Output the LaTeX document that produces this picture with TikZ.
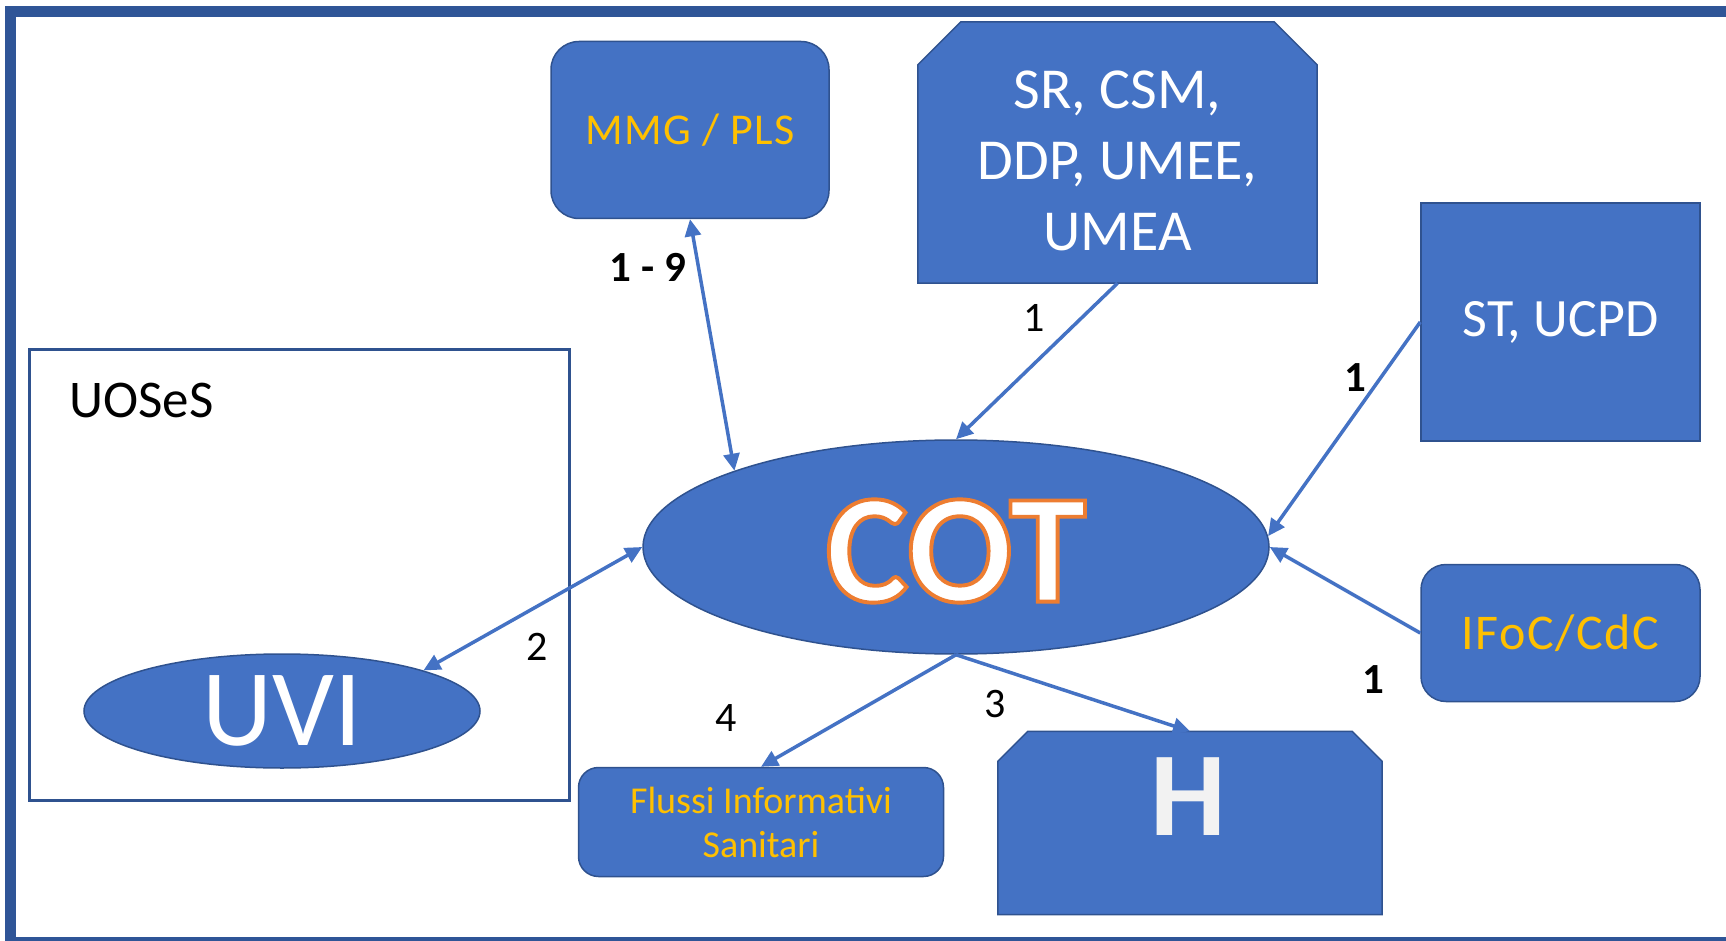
\documentclass[tikz,border=0pt]{standalone}
\usepackage{fontspec}
\setmainfont{Carlito}
\newfontfamily\cotfamily[FakeBold=2.5,BoldFeatures={FakeBold=2.5}]{Carlito}
\usetikzlibrary{arrows.meta,shapes.geometric}
\definecolor{fillblue}{HTML}{4472C4}
\definecolor{edgeblue}{HTML}{2F528F}
\definecolor{frameblue}{HTML}{2F5597}
\definecolor{gold}{HTML}{FFC000}
\definecolor{cotline}{HTML}{ED7D31}

\begin{document}
\begin{tikzpicture}[x=1pt,y=-1pt,
    box/.style={draw=edgeblue,fill=fillblue,line width=1.5pt,inner sep=0pt,align=center,text=white},
    rbox/.style={box,rounded corners=#1},
    hull/.style={inner sep=0pt},
    oval/.style={box,ellipse},
    link/.style={fillblue,line width=3.5pt,-{Triangle[length=17pt,width=16pt]}},
    twoway/.style={link,{Triangle[length=17pt,width=16pt]}-{Triangle[length=17pt,width=16pt]}},
    num/.style={inner sep=0pt,font=\fontsize{42}{42}\selectfont},
    bnum/.style={num,font=\bfseries\fontsize{43}{43}\selectfont}]
    \useasboundingbox(0,0)rectangle(1726,941);
    \clip(0,0)rectangle(1726,941);
    \draw[frameblue,line width=11pt](10,12)rectangle(1760,942);

    \node[draw=edgeblue,line width=3pt,minimum width=540pt,minimum height=451pt](uoses)at(299,574.5){};
    \node[anchor=west,inner sep=0pt,font=\fontsize{53}{53}\selectfont](uosestxt)at(69,400){UOSeS};
    \node[oval,minimum width=396pt,minimum height=114pt,font=\fontsize{109}{109}\selectfont](uvi)at(282,711){UVI};

    \node[rbox=28pt,minimum width=278pt,minimum height=177pt,text=gold,
        font=\fontsize{44}{44}\selectfont\addfontfeatures{LetterSpace=3}](mmg)at(690,130){MMG / PLS};
    \node[hull,minimum width=399pt,minimum height=261pt](sr)at(1117.5,152.5){};
    \draw[box](sr.south west)--([yshift=-43pt]sr.north west)--([xshift=43pt]sr.north west)
        --([xshift=-43pt]sr.north east)--([yshift=-43pt]sr.north east)--(sr.south east)--cycle;
    \node[inner sep=0pt,align=center,text=white,font=\fontsize{58}{71}\selectfont](srtxt)at(1117.5,161){SR, CSM,\\DDP, UMEE,\\UMEA};
    \node[box,minimum width=279pt,minimum height=238pt,font=\fontsize{54}{54}\selectfont](st)at(1560.5,322){ST, UCPD};
    \node[rbox=25pt,minimum width=279pt,minimum height=137pt,text=gold,
        font=\fontsize{50}{50}\selectfont\addfontfeatures{LetterSpace=3}](ifoc)at(1560.5,633){IFoC/CdC};
    \node[rbox=20pt,minimum width=365pt,minimum height=109pt,text=gold,font=\fontsize{38}{44}\selectfont](fis)at(761,822){Flussi Informativi\\Sanitari};
    \node[hull,minimum width=384pt,minimum height=183pt](h)at(1190,823){};
    \draw[box](h.south west)--([yshift=-30pt]h.north west)--([xshift=30pt]h.north west)
        --([xshift=-30pt]h.north east)--([yshift=-30pt]h.north east)--(h.south east)--cycle;
    \node[inner sep=0pt,text=white!95!black,font=\bfseries\fontsize{120}{120}\selectfont](htxt)at(1188,797){H};

    \node[oval,minimum width=626pt,minimum height=214pt](cot)at(956,547){};
    \node[inner sep=0pt,text=white,font=\cotfamily\bfseries\fontsize{156}{156}\selectfont](cottxt)at(956,551)
        {\special{pdf:code 0.929 0.490 0.192 RG}COT};

    \draw[twoway](mmg.south)--(cot.161);
    \draw[link](sr.south)--(cot.north);
    \draw[link](st.west)--(cot.2);
    \draw[link](ifoc.west)--(cot.east);
    \draw[twoway](cot.west)--(uvi.16);
    \draw[link](cot.south)--(fis.north);
    \draw[link](cot.south)--(h.north);

    \node[bnum](l19)at(648,267){1 - 9};
    \node[num](l1sr)at(1034,318){1};
    \node[bnum](l1st)at(1355,378){1};
    \node[bnum](l1if)at(1373,680){1};
    \node[num](l2)at(537,647){2};
    \node[num](l3)at(995,704){3};
    \node[num](l4)at(726,718){4};
\end{tikzpicture}
\end{document}
